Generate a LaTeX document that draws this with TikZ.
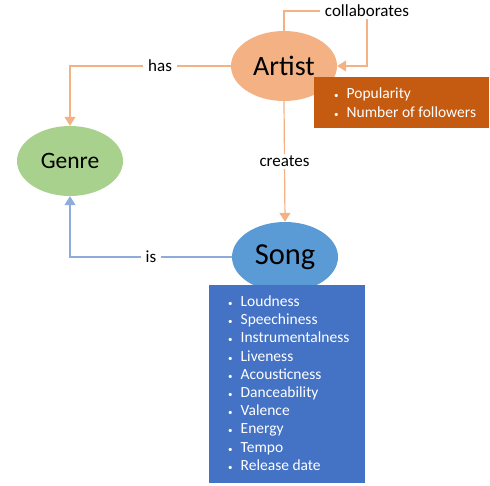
\documentclass[tikz,border=0pt]{standalone}
\usepackage{fontspec}
\setmainfont{Carlito}
\usetikzlibrary{arrows.meta,shapes.geometric}
\definecolor{artistc}{HTML}{F4B183}
\definecolor{artattrc}{HTML}{C55A11}
\definecolor{genrec}{HTML}{A9D18E}
\definecolor{songc}{HTML}{5B9BD5}
\definecolor{songattrc}{HTML}{4472C4}
\definecolor{islinec}{HTML}{8FAADC}
\tikzstyle{entity}=[ellipse,minimum width=106pt,minimum height=70pt,inner sep=0pt]
\tikzstyle{attrbox}=[anchor=north west,align=left,text=white,inner xsep=0pt,inner ysep=0pt,font=\fontsize{15.5}{18.2}\selectfont]
\tikzstyle{lbl}=[fill=white,inner xsep=5pt,inner ysep=2pt,font=\fontsize{17}{20}\selectfont]
\tikzstyle{artline}=[draw=artistc,line width=1.2pt,-{Triangle[width=11pt,length=9pt]}]
\tikzstyle{isline}=[draw=islinec,line width=1.2pt,-{Triangle[width=11pt,length=9pt]}]
\newcommand{\itm}[1]{\makebox[12.5pt][l]{\small\textbullet}#1}
\begin{document}
\begin{tikzpicture}[x=1pt,y=-1pt]
    \useasboundingbox (0,0) rectangle (490,485);
    \node[entity,fill=artistc,font=\fontsize{28}{32}\selectfont] (artist) at (284,66) {Artist};
    \node[entity,fill=genrec,font=\fontsize{23.5}{28}\selectfont] (genre) at (70,161) {Genre};
    \node[entity,fill=songc,font=\fontsize{30.5}{36}\selectfont] (song) at (285,257) {Song};
    \coordinate (collab) at (367,11);

    % connectors
    \draw[artline] (artist.west) -| node[lbl,pos=0.22] {has} (genre.north);
    \draw[artline] (artist.south) -- node[lbl] {creates} (song.north);
    \draw[isline] (song.west) -| node[lbl,pos=0.25] {is} (genre.south);
    \draw[artline] (artist.north) |- (collab) node[lbl] {collaborates} |- (artist.east);

    % attribute boxes
    \draw[fill=artattrc,draw=artattrc] (314,77) rectangle (488,127);
    \node[attrbox] (artattr) at (334,88) {\itm{Popularity}\\ \itm{Number of followers}};
    \draw[fill=songattrc,draw=songattrc] (209,285) rectangle (364,482);
    \node[attrbox] (songattr) at (228,295.5) {\itm{Loudness}\\ \itm{Speechiness}\\ \itm{Instrumentalness}\\ \itm{Liveness}\\ \itm{Acousticness}\\ \itm{Danceability}\\ \itm{Valence}\\ \itm{Energy}\\ \itm{Tempo}\\ \itm{Release date}};
\end{tikzpicture}
\end{document}
